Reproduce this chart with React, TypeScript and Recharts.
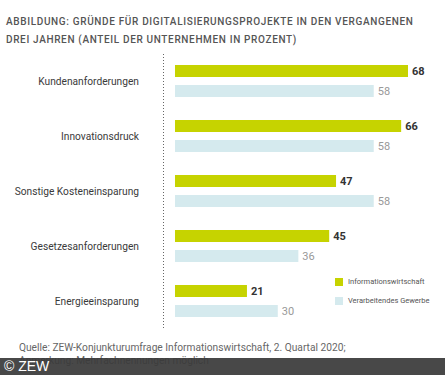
import { BarChart, Bar, XAxis, YAxis, LabelList, ReferenceLine } from "recharts"

const categories = [
  "Kundenanforderungen",
  "Innovationsdruck",
  "Sonstige Kosteneinsparung",
  "Gesetzesanforderungen",
  "Energieeinsparung",
]
const infoValues = [68, 66, 47, 45, 21]
const industryValues = [58, 58, 58, 36, 30]
const seriesNames = ["Informationswirtschaft", "Verarbeitendes Gewerbe"]

const GREEN = "#c6d300"
const LIGHT = "#d5eaee"
const FONT = "Roboto, 'Open Sans', sans-serif"
const AXIS_START = -3.5

const data = categories.map((name, i) => ({
  name,
  info: infoValues[i],
  industry: industryValues[i],
}))

function CategoryTick(props: any) {
  const { x, y, payload } = props
  return (
    <text
      x={x - 16}
      y={y}
      dy={4}
      textAnchor="end"
      fill="#3a3a3a"
      fontSize={10.2}
      fontFamily={FONT}
    >
      {payload.value}
    </text>
  )
}

function Legend() {
  return (
    <div style={{ position: "absolute", left: 335, top: 272, fontFamily: FONT, fontSize: 7.5, color: "#555" }}>
      {seriesNames.map((n, i) => (
        <div key={n} style={{ display: "flex", alignItems: "center", height: 19 }}>
          <span style={{ width: 8, height: 8, background: i === 0 ? GREEN : LIGHT, marginRight: 5, display: "inline-block" }} />
          {n}
        </div>
      ))}
    </div>
  )
}

export default function App() {
  return (
    <div style={{ position: "absolute", left: 0, top: 0, width: 445, height: 375, background: "#fff", overflow: "hidden" }}>
      <div
        style={{
          position: "absolute",
          left: 6,
          top: 13,
          fontFamily: FONT,
          fontSize: 10,
          fontWeight: 500,
          letterSpacing: 0.65,
          lineHeight: "18px",
          color: "#555",
        }}
      >
        ABBILDUNG: GRÜNDE FÜR DIGITALISIERUNGSPROJEKTE IN DEN VERGANGENEN
        <br />
        DREI JAHREN (ANTEIL DER UNTERNEHMEN IN PROZENT)
      </div>
      <BarChart
        width={445}
        height={375}
        data={data}
        layout="vertical"
        margin={{ top: 53, right: 37, bottom: 47, left: 0 }}
        barSize={12}
        barGap={8}
        style={{ position: "absolute", left: 0, top: 0 }}
      >
        <XAxis type="number" domain={[AXIS_START, 68]} allowDataOverflow hide />
        <YAxis
          type="category"
          dataKey="name"
          width={163}
          tickLine={false}
          axisLine={false}
          tick={<CategoryTick />}
        />
        <ReferenceLine
          x={AXIS_START + 0.15}
          stroke="#666"
          strokeWidth={1}
          strokeDasharray="1 2"
          ifOverflow="visible"
        />
        <Bar dataKey="info" fill={GREEN} isAnimationActive={false}>
          <LabelList
            dataKey="info"
            position="right"
            offset={4}
            fill="#333"
            fontWeight={700}
            fontSize={11}
            fontFamily={FONT}
          />
        </Bar>
        <Bar dataKey="industry" fill={LIGHT} isAnimationActive={false}>
          <LabelList
            dataKey="industry"
            position="right"
            offset={4}
            fill="#999"
            fontSize={11}
            fontFamily={FONT}
          />
        </Bar>
      </BarChart>
      <Legend />
      <div
        style={{
          position: "absolute",
          left: 19,
          top: 341,
          fontFamily: FONT,
          fontSize: 10.2,
          lineHeight: "13px",
          color: "#666",
        }}
      >
        Quelle: ZEW-Konjunkturumfrage Informationswirtschaft, 2. Quartal 2020;
        <br />
        Anmerkung: Mehrfachnennungen möglich
      </div>
      <div
        style={{
          position: "absolute",
          left: 0,
          top: 358,
          width: 445,
          height: 17,
          background: "rgba(58,58,58,0.93)",
          color: "#fff",
          fontFamily: "'Liberation Sans', Arial, sans-serif",
          fontSize: 14,
          lineHeight: "17px",
          paddingLeft: 4,
        }}
      >
        © ZEW
      </div>
    </div>
  )
}
